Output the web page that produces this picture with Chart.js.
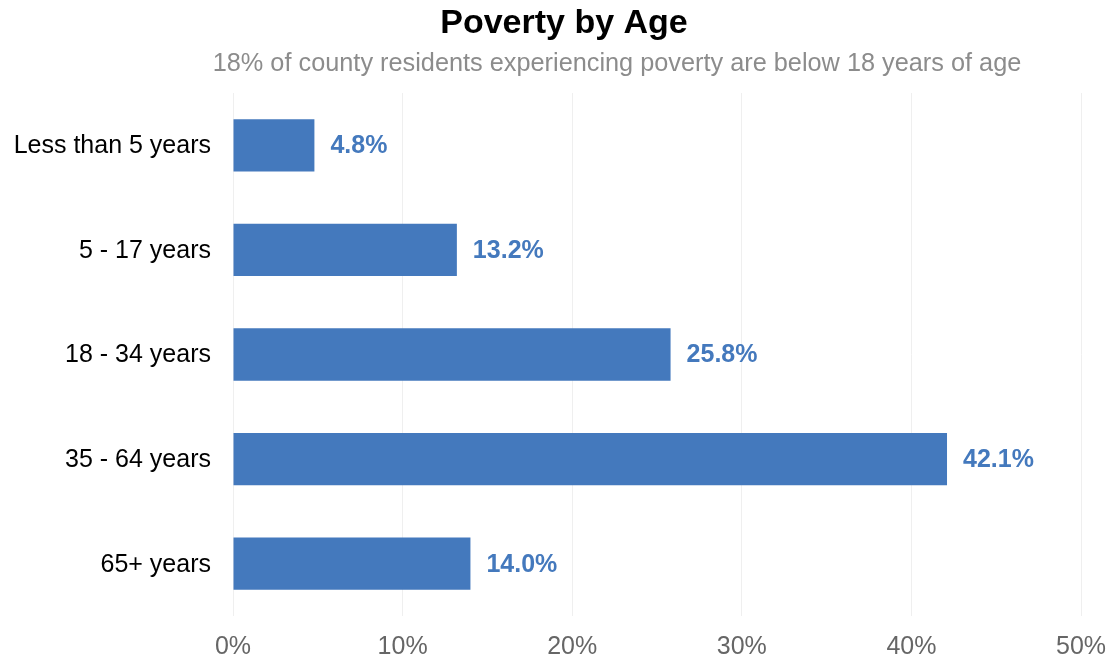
<!DOCTYPE html>
<html>
<head>
<meta charset="utf-8">
<script src="https://cdn.jsdelivr.net/npm/chart.js@4"></script>
<style>
  html, body { margin: 0; padding: 0; background: #ffffff; }
  #wrap { width: 1107px; height: 662px; position: relative; }
</style>
</head>
<body>
<div id="wrap"><canvas id="c" width="1107" height="662"></canvas></div>
<script>
const categories = ["Less than 5 years", "5 - 17 years", "18 - 34 years", "35 - 64 years", "65+ years"];
const values = [4.8, 13.2, 25.8, 42.1, 14.0];
const xTicks = [0, 10, 20, 30, 40, 50];
const titleText = "Poverty by Age";
const subtitleText = "18% of county residents experiencing poverty are below 18 years of age";

const FONT = "'Liberation Sans', Arial, sans-serif";
const BAR = "#4479BD";

const textPlugin = {
  id: 'texts',
  afterDraw(chart) {
    const ctx = chart.ctx;
    ctx.save();
    ctx.textAlign = 'center';
    ctx.textBaseline = 'alphabetic';
    ctx.fillStyle = '#000000';
    ctx.font = "bold 34px " + FONT;
    ctx.fillText(titleText, 564, 33);
    ctx.fillStyle = '#8c8c8c';
    ctx.font = "25.3px " + FONT;
    ctx.fillText(subtitleText, 617, 71);
    // data labels
    const meta = chart.getDatasetMeta(0);
    ctx.fillStyle = BAR;
    ctx.font = "bold 25px " + FONT;
    ctx.textAlign = 'left';
    ctx.textBaseline = 'middle';
    meta.data.forEach((bar, i) => {
      ctx.fillText(values[i].toFixed(1) + '%', bar.x + 16, bar.y + 1);
    });
    ctx.restore();
  }
};

new Chart(document.getElementById('c'), {
  type: 'bar',
  data: {
    labels: categories,
    datasets: [{
      data: values,
      backgroundColor: BAR,
      borderWidth: 0,
      categoryPercentage: 1.0,
      barPercentage: 0.5
    }]
  },
  options: {
    indexAxis: 'y',
    responsive: false,
    animation: false,
    layout: { padding: { top: 93, right: 0, left: 0, bottom: 0 } },
    plugins: {
      legend: { display: false },
      tooltip: { enabled: false },
      title: { display: false }
    },
    scales: {
      x: {
        min: 0, max: 50,
        afterBuildTicks(scale) { scale.ticks = xTicks.map(v => ({ value: v })); },
        grid: { color: '#efefef', drawTicks: false, lineWidth: 1 },
        border: { display: false },
        ticks: {
          color: '#666666',
          font: { family: FONT, size: 25 },
          padding: 16,
          callback: v => v + '%'
        },
        afterFit(scale) { scale.height = 46; scale.paddingLeft = 0; scale.paddingRight = 26; }
      },
      y: {
        grid: { display: false, drawTicks: false },
        border: { display: false },
        ticks: {
          color: '#000000',
          font: { family: FONT, size: 25 },
          padding: 22,
          labelOffset: 1
        },
        afterFit(scale) { scale.width = 233; }
      }
    }
  },
  plugins: [textPlugin]
});
</script>
</body>
</html>
